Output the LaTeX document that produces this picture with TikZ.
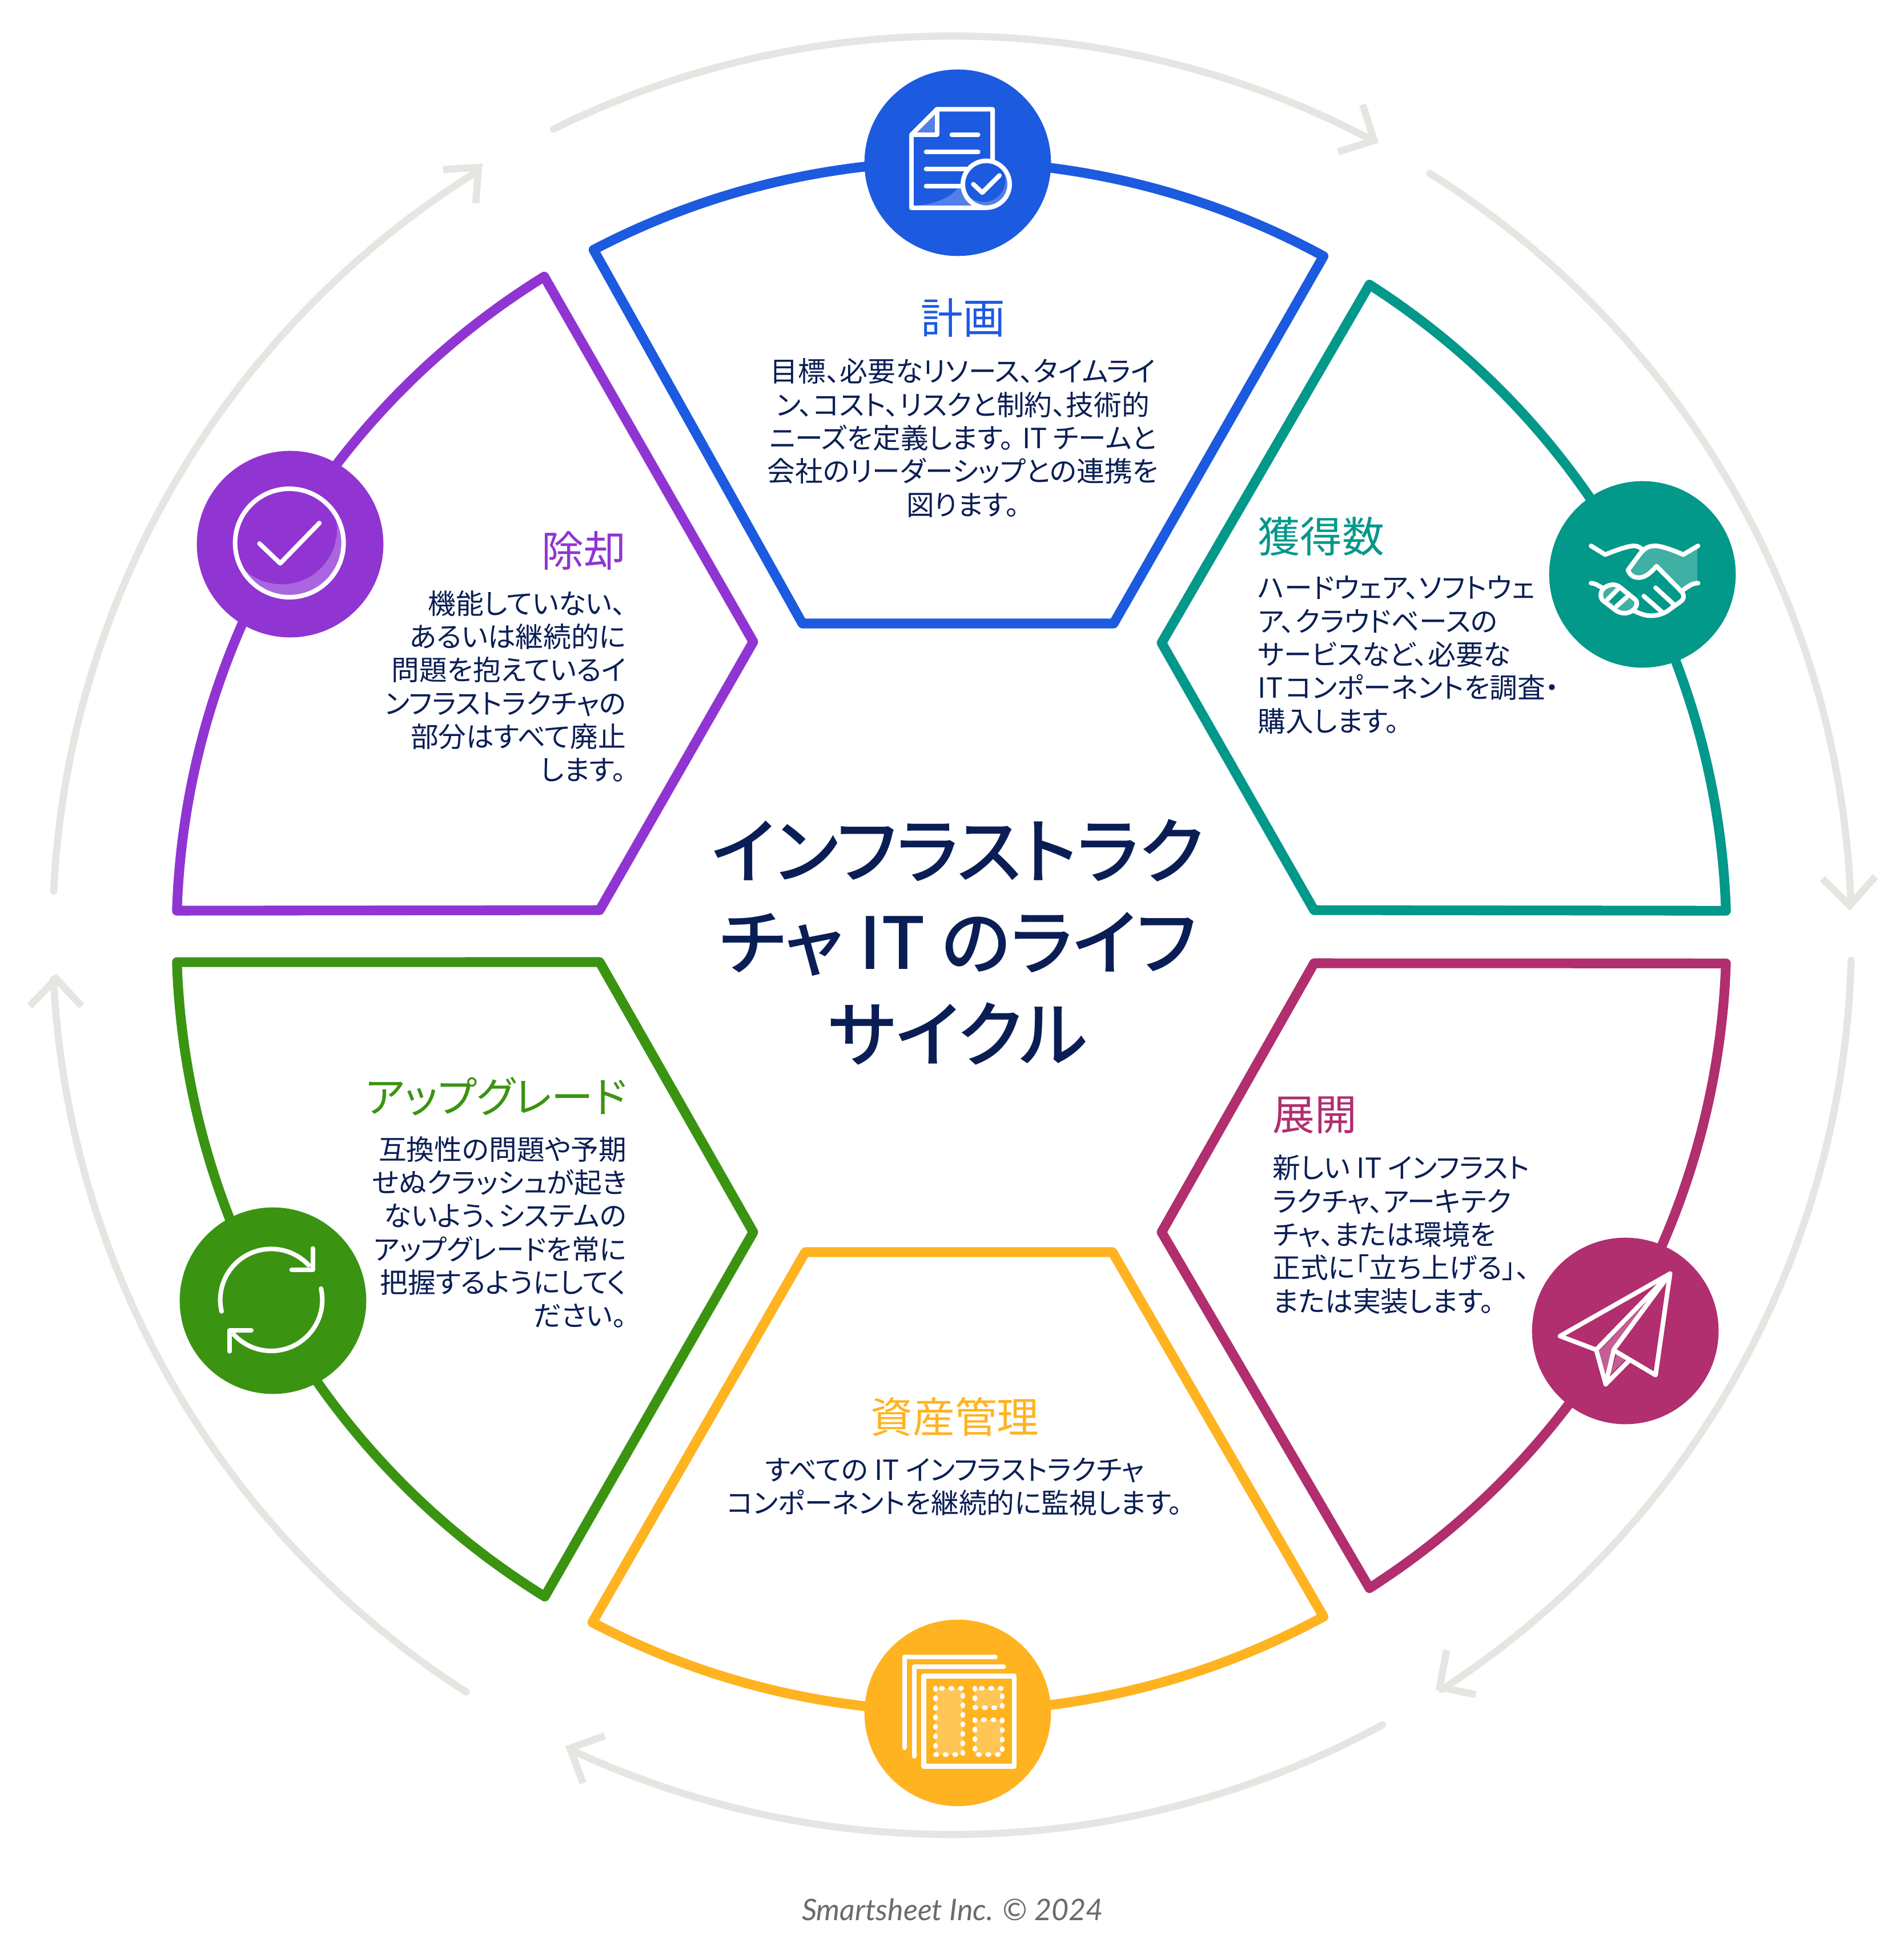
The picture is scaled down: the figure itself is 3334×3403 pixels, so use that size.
\documentclass[tikz,border=0pt]{standalone}
\usepackage{fontspec}
\newfontfamily\jpf[RawFeature=+palt]{Noto Sans CJK JP}
\newfontfamily\jpt[RawFeature=+palt]{Noto Sans CJK JP Medium}
\newfontfamily\ftf{Lato}
\definecolor{navy}{HTML}{0A1E55}
\definecolor{cblue}{HTML}{1C5AE0}
\definecolor{lblue}{HTML}{5280E6}
\definecolor{cteal}{HTML}{02988A}
\definecolor{lteal}{HTML}{40B0A5}
\definecolor{cmag}{HTML}{B12E6F}
\definecolor{lmag}{HTML}{C45F94}
\definecolor{camb}{HTML}{FFB320}
\definecolor{lamb}{HTML}{FFC655}
\definecolor{cgrn}{HTML}{3A9412}
\definecolor{cpur}{HTML}{9035D2}
\definecolor{lpur}{HTML}{AA66DF}
\definecolor{cgry}{HTML}{E6E5E1}
\definecolor{cft}{HTML}{6B6B6B}
\tikzset{
  petal/.style={draw=#1,line width=4.1pt,line join=round,fill=white},
  badge/.style={circle,fill=#1,minimum size=78.4pt,inner sep=0pt},
  ring/.style={draw=cgry,line width=3pt,line cap=round},
  chev/.style={draw=cgry,line width=3pt,line cap=butt,line join=miter},
  ic/.style={draw=white,line width=1.92pt,line cap=round,line join=round},
  dots/.style={draw=white,line width=1.95pt,line cap=round,line join=round,dash pattern=on 0.5pt off 3.5pt},
  head/.style={font=\jpf\fontsize{17.7}{21}\selectfont,inner sep=0pt},
  body/.style={font=\jpf\fontsize{11.7}{14}\selectfont,text=navy,inner sep=0pt},
}
\begin{document}
\begin{tikzpicture}[x=0.24pt,y=-0.24pt]
\useasboundingbox (0,0) rectangle (3334,3403);
\fill[white] (0,0) rectangle (3334,3403);
\coordinate (c) at (1668,1640);
\coordinate (g) at (1667,1638);
% outer ring
\draw[ring] (g) ++(-116.3:1575) arc[start angle=-116.3,end angle=-62.2,radius=1575];
\draw[chev] (2386,183) -- (2406,246) -- (2343,266);
\draw[ring] (g) ++(-57.9:1575) arc[start angle=-57.9,end angle=-2.2,radius=1575];
\draw[chev] (3191,1539) -- (3239,1586) -- (3284,1535);
\draw[ring] (g) ++(1.6:1575) arc[start angle=1.6,end angle=57.0,radius=1575];
\draw[chev] (2533,2890) -- (2521,2955) -- (2584,2968);
\draw[ring] (g) ++(61.4:1575) arc[start angle=61.4,end angle=115.1,radius=1575];
\draw[chev] (1059,3040) -- (998,3062) -- (1021,3123);
\draw[ring] (g) ++(122.7:1575) arc[start angle=122.7,end angle=177.2,radius=1575];
\draw[chev] (52,1762) -- (98,1714) -- (143,1762);
\draw[ring] (g) ++(182.8:1575) arc[start angle=182.8,end angle=238.2,radius=1575];
\draw[chev] (776,297) -- (838,293) -- (833,356);
% petals
\draw[petal=cblue] (c) ++(-117.6:1357) arc[start angle=-117.6,end angle=-61.4,radius=1357] -- (1950,1092) -- (1405,1092) -- cycle;
\draw[petal=cteal] (c) ++(-57.4:1355) arc[start angle=-57.4,end angle=-1.9,radius=1355] -- (2301,1594) -- (2034,1126) -- cycle;
\draw[petal=cmag] (c) ++(2:1355) arc[start angle=2,end angle=57.4,radius=1355] -- (2034,2158) -- (2301,1687) -- cycle;
\draw[petal=camb] (c) ++(61.4:1357) arc[start angle=61.4,end angle=117.7,radius=1357] -- (1410,2193) -- (1948,2193) -- cycle;
\draw[petal=cgrn] (c) ++(121.7:1359) arc[start angle=121.7,end angle=178.1,radius=1359] -- (1050,1685) -- (1319,2158) -- cycle;
\draw[petal=cpur] (c) ++(181.9:1359) arc[start angle=181.9,end angle=238.25,radius=1359] -- (1319,1124) -- (1050,1594) -- cycle;
% badges
\node[badge=cblue] (b1) at (1677,285) {};
\node[badge=cteal] (b2) at (2876,1006) {};
\node[badge=cmag] (b3) at (2846,2331) {};
\node[badge=camb] (b4) at (1677,3000) {};
\node[badge=cgrn] (b5) at (478,2278) {};
\node[badge=cpur] (b6) at (508,953) {};
% icon 1: document
\begin{scope}[shift={(1500,100)},scale=1/3]
\fill[lblue] (315,398) -- (412,398) -- (412,302) -- cycle;
\fill[lblue] (300,780) .. controls (400,778) and (490,740) .. (530,690) -- (550,690) .. controls (555,730) and (580,760) .. (610,780) -- cycle;
\draw[ic] (288,408) -- (422,274) -- (714,274) -- (714,540);
\draw[ic] (422,274) -- (422,408) -- (288,408) -- (288,792) -- (681,792);
\draw[ic] (500,408) -- (638,408);
\draw[ic] (365,498) -- (638,498);
\draw[ic] (365,588) -- (575,588);
\draw[ic] (365,678) -- (552,678);
\begin{scope}
\clip (681,668) circle[radius=123];
\fill[lblue] (681,668) circle[radius=123];
\fill[cblue] (668,648) circle[radius=113];
\end{scope}
\draw[ic] (681,668) circle[radius=123];
\draw[ic] (613,668) -- (660,712) -- (750,622);
\end{scope}
% icon 2: handshake
\begin{scope}[shift={(2700,820)},scale=1/3]
\fill[lteal] (535,445) .. controls (560,420) and (575,408) .. (595,408) .. controls (630,408) and (700,435) .. (742,454) -- (816,414) -- (816,604) .. controls (790,604) and (770,620) .. (742,640) -- (602,515) .. controls (575,545) and (545,575) .. (510,575) .. controls (490,575) and (465,570) .. (452,535) -- cycle;
\draw[ic] (258,408) -- (332,454) .. controls (380,435) and (450,408) .. (485,408) .. controls (505,408) and (520,420) .. (530,430);
\draw[ic] (820,408) -- (742,454) .. controls (700,435) and (630,408) .. (595,408) .. controls (560,408) and (540,420) .. (515,450) -- (452,535) .. controls (465,570) and (490,575) .. (510,575) .. controls (545,575) and (575,545) .. (602,515) -- (735,650) .. controls (750,670) and (745,690) .. (730,700) -- (680,735) .. controls (640,770) and (600,775) .. (570,775) .. controls (540,775) and (510,762) .. (480,748);
\draw[ic] (820,604) .. controls (790,604) and (770,620) .. (742,640);
\draw[ic] (258,604) .. controls (280,604) and (300,620) .. (320,630);
\draw[ic,fill=lteal] (325,630) .. controls (350,610) and (385,605) .. (410,625) -- (490,690) .. controls (505,705) and (500,725) .. (480,745) .. controls (450,770) and (410,765) .. (385,745) -- (320,695) .. controls (305,680) and (305,650) .. (325,630) -- cycle;
\fill[cteal] (398,637) -- (445,678) -- (392,725) -- (345,690) -- cycle;
\draw[ic] (398,637) -- (345,690);
\draw[ic] (445,678) -- (392,725);
\draw[ic] (535,672) -- (630,755);
\draw[ic] (597,628) -- (695,718);
\end{scope}
% icon 3: plane
\begin{scope}[shift={(2680,2160)},scale=1/3]
\fill[lmag] (360,620) -- (615,355) -- (435,605) -- (395,745) -- cycle;
\fill[lmag] (452,635) -- (497,662) -- (420,742) -- cycle;
\draw[ic] (155,540) -- (733,212) -- (345,612) -- cycle;
\draw[ic] (733,212) -- (657,745) -- (450,622);
\draw[ic] (733,212) -- (438,610) -- (395,793) -- (345,612);
\draw[ic] (395,793) -- (518,668);
\end{scope}
% icon 4: assets
\begin{scope}[shift={(1500,2830)},scale=1/3]
\draw[ic,line width=2pt] (252,692) -- (252,216) -- (728,216);
\draw[ic,line width=2pt] (302,738) -- (302,267) -- (772,267);
\draw[ic,line width=2pt] (352,316) rectangle (827,790);
\fill[lamb] (415,380) rectangle (558,730);
\fill[lamb] (622,380) rectangle (764,482);
\fill[lamb] (622,545) rectangle (764,728);
\draw[dots] (415,380) rectangle (558,730);
\draw[dots] (622,380) rectangle (764,482);
\draw[dots] (622,545) rectangle (764,728);
\end{scope}
% icon 5: refresh
\begin{scope}[shift={(300,2100)},scale=1/3]
\draw[ic] (525,530) ++(167:268) arc[start angle=167,end angle=317,radius=268];
\draw[ic] (743,260) -- (743,372) -- (632,372);
\draw[ic] (525,530) ++(-12.8:268) arc[start angle=-12.8,end angle=137.2,radius=268];
\draw[ic] (307,800) -- (307,690) -- (420,690);
\end{scope}
% icon 6: check
\begin{scope}[shift={(330,770)},scale=1/3]
\begin{scope}
\clip (530,543) circle[radius=285];
\fill[lpur] (530,543) circle[radius=285];
\fill[cpur] (490,470) circle[radius=290];
\end{scope}
\draw[ic] (530,543) circle[radius=285];
\draw[ic] (373,546) -- (482,650) -- (688,438);
\end{scope}
% text
\node[head,text=cblue] (h1) at (1686,557) {計画};
\node[body,align=center] (t1) at (1686,767) {目標、必要なリソース、タイムライ\\ン、コスト、リスクと制約、技術的\\ニーズを定義します。\kern.3em IT チームと\\会社のリーダーシップとの連携を\\図ります。};
\node[head,text=cteal,anchor=west] (h2) at (2202,939) {獲得数};
\node[body,align=left,anchor=west] (t2) at (2202,1147) {ハードウェア、ソフトウェ\\ア、クラウドベースの\\サービスなど、必要な\\IT\kern-.12em{} コンポーネントを調査・\\購入します。};
\node[head,text=cmag,anchor=west] (h3) at (2228,1953) {展開};
\node[body,align=left,anchor=west] (t3) at (2228,2162) {新しい IT インフラスト\\ラクチャ、アーキテク\\チャ、または環境を\\正式に「立ち上げる」、\\または実装します。};
\node[head,text=camb] (h4) at (1672,2481) {資産管理};
\node[body,align=center] (t4) at (1672,2604) {すべての IT インフラストラクチャ\\コンポーネントを継続的に監視します。};
\node[head,text=cgrn,anchor=east] (h5) at (1098,1920) {アップグレード};
\node[body,align=right,anchor=east] (t5) at (1098,2158) {互換性の問題や予期\\せぬクラッシュが起き\\ないよう、システムの\\アップグレードを常に\\把握するようにしてく\\ださい。};
\node[head,text=cpur,anchor=east] (h6) at (1097,964) {除却};
\node[body,align=right,anchor=east] (t6) at (1097,1202) {機能していない、\\あるいは継続的に\\問題を抱えているイ\\ンフラストラクチャの\\部分はすべて廃止\\します。};
\node[font=\jpt\fontsize{30.2}{38.5}\selectfont,text=navy,align=center,inner sep=0pt] (title) at (1677,1650) {インフラストラク\\チャ IT のライフ\\サイクル};
\node[font=\ftf\itshape\fontsize{12.5}{15}\selectfont,text=cft,inner sep=0pt] (foot) at (1668,3344) {Smartsheet Inc. © 2024};
\end{tikzpicture}
\end{document}
